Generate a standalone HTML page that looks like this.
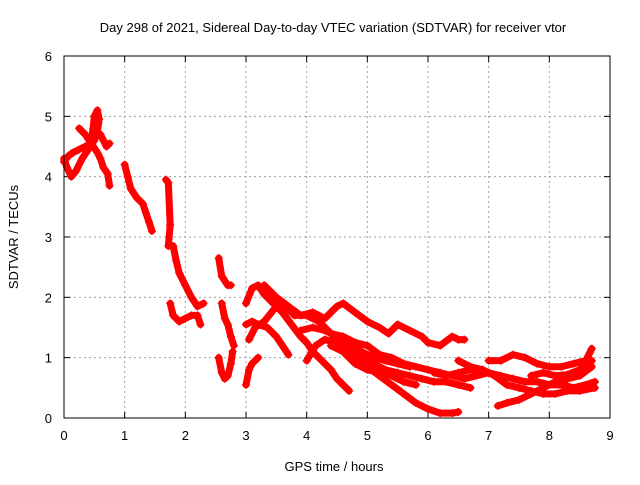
<!DOCTYPE html>
<html><head><meta charset="utf-8"><style>
body{margin:0;background:#fff}
svg{font-family:"Liberation Sans",sans-serif;font-size:13px}
</style></head><body>
<svg id="chart" width="640" height="480" xmlns="http://www.w3.org/2000/svg">
<rect width="640" height="480" fill="#fff"/>
<text x="333" y="32" text-anchor="middle">Day 298 of 2021, Sidereal Day-to-day VTEC variation (SDTVAR) for receiver vtor</text>
<text x="334" y="471" text-anchor="middle">GPS time / hours</text>
<text transform="translate(18,237) rotate(-90)" text-anchor="middle">SDTVAR / TECUs</text>
<g id="grid"></g>
<g id="marks"></g>
<rect x="64" y="56" width="546" height="362" fill="none" stroke="#000" stroke-width="1"/>
</svg>
<script>
const xTicks=[0,1,2,3,4,5,6,7,8,9];
const yTicks=[0,1,2,3,4,5,6];
const trackA=[[0,4.25],[0.08,4.35],[0.15,4.4],[0.25,4.45],[0.35,4.5],[0.45,4.55],[0.5,4.6],[0.55,4.75],[0.58,4.95],[0.55,5.1],[0.5,5.0],[0.48,4.8],[0.45,4.6]];
const trackB=[[0.25,4.8],[0.35,4.7],[0.45,4.55],[0.55,4.4],[0.6,4.3],[0.65,4.15],[0.72,4.05],[0.75,3.85]];
const trackC=[[0,4.3],[0.05,4.15],[0.12,4.0],[0.2,4.1],[0.3,4.3],[0.4,4.45]];
const trackD=[[0.6,4.7],[0.65,4.6],[0.7,4.5],[0.75,4.55]];
const trackE=[[1.0,4.2],[1.05,4.0],[1.1,3.8],[1.2,3.65],[1.3,3.55],[1.35,3.4],[1.4,3.25],[1.45,3.1]];
const trackF=[[1.68,3.95],[1.72,3.9],[1.75,3.2],[1.72,2.85],[1.8,2.85],[1.85,2.6],[1.9,2.4],[2.0,2.2],[2.1,2.0],[2.2,1.85],[2.3,1.9]];
const trackG=[[1.75,1.9],[1.8,1.7],[1.9,1.6],[2.0,1.65],[2.1,1.7],[2.2,1.7],[2.25,1.55]];
const trackH=[[2.55,2.65],[2.6,2.35],[2.7,2.2],[2.75,2.2]];
const trackI=[[2.6,1.9],[2.65,1.65],[2.7,1.55],[2.75,1.35],[2.8,1.2]];
const trackJ=[[2.55,1.0],[2.6,0.75],[2.65,0.65],[2.7,0.7],[2.75,0.9],[2.78,1.1]];
const trackK=[[3.0,0.55],[3.05,0.8],[3.1,0.9],[3.2,1.0]];
const trackL=[[3.0,1.9],[3.1,2.15],[3.2,2.2],[3.3,2.05],[3.4,1.95],[3.5,1.85],[3.6,1.75],[3.75,1.55],[3.9,1.35],[4.0,1.25],[4.1,1.1],[4.2,1.0],[4.3,0.9],[4.4,0.8],[4.5,0.65],[4.6,0.55],[4.7,0.45]];
const trackM=[[3.0,1.55],[3.1,1.6],[3.2,1.55],[3.35,1.5],[3.5,1.35],[3.6,1.2],[3.7,1.05]];
const trackN=[[3.05,1.3],[3.15,1.5],[3.3,1.6],[3.5,1.85],[3.6,1.9],[3.8,1.7],[4.0,1.7],[4.2,1.6],[4.4,1.4],[4.6,1.35],[4.8,1.25],[5.0,1.2],[5.2,1.05],[5.4,1.0],[5.6,0.9],[5.8,0.85],[6.0,0.8],[6.2,0.75],[6.4,0.7],[6.6,0.65],[6.8,0.7],[7.0,0.75],[7.2,0.7],[7.4,0.65],[7.6,0.6],[7.8,0.6],[8.0,0.55],[8.2,0.55],[8.4,0.5],[8.6,0.55],[8.75,0.6]];
const trackO=[[3.3,2.2],[3.5,2.0],[3.7,1.85],[3.9,1.7],[4.1,1.75],[4.3,1.65],[4.5,1.85],[4.6,1.9],[4.8,1.75],[5.0,1.6],[5.2,1.5],[5.35,1.4],[5.5,1.55],[5.7,1.45],[5.9,1.35],[6.0,1.25],[6.2,1.2],[6.4,1.35],[6.5,1.3],[6.6,1.3]];
const trackP=[[4.0,0.95],[4.15,1.2],[4.3,1.3],[4.5,1.25],[4.7,1.15],[4.9,1.0],[5.1,0.9],[5.3,0.8],[5.5,0.75],[5.7,0.7],[5.9,0.65],[6.1,0.6],[6.3,0.6],[6.5,0.55],[6.7,0.5]];
const trackQ=[[4.6,1.3],[4.8,1.05],[5.0,0.85],[5.2,0.7],[5.4,0.55],[5.6,0.4],[5.8,0.25],[6.0,0.15],[6.2,0.08],[6.4,0.08],[6.5,0.1]];
const trackR=[[4.4,1.2],[4.6,1.1],[4.8,0.9],[5.0,0.8],[5.2,0.75],[5.4,0.7],[5.6,0.6],[5.8,0.55]];
const trackS=[[7.0,0.95],[7.2,0.95],[7.4,1.05],[7.6,1.0],[7.8,0.9],[8.0,0.85],[8.2,0.85],[8.4,0.9],[8.6,0.95],[8.7,1.15]];
const trackT=[[6.1,0.75],[6.3,0.7],[6.5,0.75],[6.7,0.8],[6.9,0.8],[7.1,0.7],[7.3,0.55],[7.5,0.5],[7.7,0.45],[7.9,0.4],[8.1,0.4],[8.3,0.45],[8.5,0.45],[8.75,0.5]];
const trackU=[[7.15,0.2],[7.3,0.25],[7.5,0.3],[7.7,0.4],[7.9,0.5],[8.1,0.6],[8.3,0.65],[8.5,0.7],[8.7,0.85]];
const trackV=[[7.7,0.7],[7.9,0.75],[8.1,0.7],[8.3,0.72],[8.5,0.8],[8.7,0.95]];
const trackW=[[6.5,0.95],[6.7,0.85],[6.9,0.8]];
const trackX=[[3.9,1.45],[4.1,1.5],[4.3,1.45],[4.5,1.35],[4.7,1.25],[4.9,1.1],[5.1,1.0],[5.3,0.95],[5.5,0.9],[5.7,0.85]];
const tracks=[trackA,trackB,trackC,trackD,trackE,trackF,trackG,trackH,trackI,trackJ,trackK,trackL,trackM,trackN,trackO,trackP,trackQ,trackR,trackS,trackT,trackU,trackV,trackW,trackX];

const X0=64,X1=610,Y0=418,Y1=56;
function sx(h){return X0+(h-0)/(9-0)*(X1-X0);}
function sy(v){return Y0-(v-0)/(6-0)*(Y0-Y1);}
const NS='http://www.w3.org/2000/svg';
const svg=document.getElementById('chart');
const grid=document.getElementById('grid');
const marks=document.getElementById('marks');
function mk(tag,attrs,parent){const e=document.createElementNS(NS,tag);for(const k in attrs)e.setAttribute(k,attrs[k]);parent.appendChild(e);return e;}

xTicks.forEach(t=>{
  const x=sx(t);
  if(t>0&&t<9){const g=mk('line',{x1:x,y1:Y0,x2:x,y2:Y1,stroke:'#a0a0a0','stroke-dasharray':'2,3'},grid);
  
  }
  mk('line',{x1:x,y1:Y0,x2:x,y2:Y0-6,stroke:'#000'},grid);
  mk('line',{x1:x,y1:Y1,x2:x,y2:Y1+6,stroke:'#000'},grid);
  const l=mk('text',{x:x,y:Y0+22,'text-anchor':'middle'},svg);
  l.textContent=t;
  
  
});
yTicks.forEach(t=>{
  const y=sy(t);
  if(t>0&&t<6){const g=mk('line',{x1:X0,y1:y,x2:X1,y2:y,stroke:'#a0a0a0','stroke-dasharray':'2,3'},grid);
  
  }
  mk('line',{x1:X0,y1:y,x2:X0+6,y2:y,stroke:'#000'},grid);
  mk('line',{x1:X1,y1:y,x2:X1-6,y2:y,stroke:'#000'},grid);
  const l=mk('text',{x:X0-12,y:y+5,'text-anchor':'end'},svg);
  l.textContent=t;
  
  
});
tracks.forEach(tr=>{
  const pts=tr.map(p=>sx(p[0])+','+sy(p[1])).join(' ');
  const pl=mk('polyline',{points:pts,fill:'none',stroke:'#ff0000','stroke-width':7,'stroke-linejoin':'round','stroke-linecap':'round'},marks);
  
  
  tr.forEach(p=>{
    const x=sx(p[0]),y=sy(p[1]);
    const m=mk('path',{d:`M${x-4},${y}H${x+4}M${x},${y-4}V${y+4}`,stroke:'#ff0000','stroke-width':1.3},marks);
    
    
  });
});
</script>
</body></html>
